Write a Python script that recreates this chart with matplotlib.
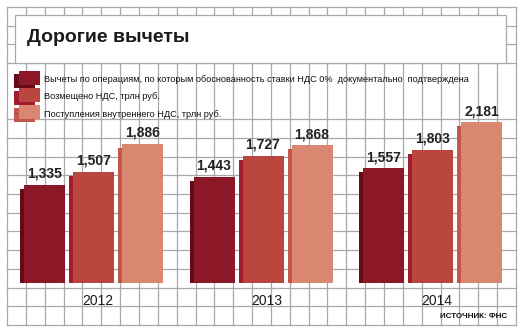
import matplotlib
matplotlib.use("Agg")
import matplotlib.pyplot as plt
from matplotlib.patches import Rectangle
from matplotlib.transforms import ScaledTranslation

# данные
years = ["2012", "2013", "2014"]
deductions = [1335, 1443, 1557]
refunded = [1507, 1727, 1803]
internal = [1886, 1868, 2181]
series_names = [
    "Вычеты по операциям, по которым обоснованность ставки НДС 0%  документально  подтверждена",
    "Возмещено НДС, трлн руб.",
    "Поступления внутреннего НДС, трлн руб.",
]
front_colors = ["#8C1727", "#BA463F", "#D98771"]
side_colors = ["#660B16", "#A11C2C", "#C4554A"]

SANS = ["Liberation Sans", "DejaVu Sans"]
W, H = 524, 334
fig = plt.figure(figsize=(W / 100, H / 100), dpi=100)
fig.patch.set_facecolor("white")

# фон: сетка в пикселях
bg = fig.add_axes([0, 0, 1, 1])
bg.set_xlim(0, W)
bg.set_ylim(H, 0)
bg.axis("off")
grid_c = "#A9A9A9"
x0, x1, nx = 7, 516, 27
y0, y1, ny = 7, 325, 17
for k in range(nx + 1):
    x = x0 + k * (x1 - x0) / nx
    bg.plot([x, x], [y0, y1], color=grid_c, lw=0.9, zorder=1)
for k in range(ny + 1):
    y = y0 + k * (y1 - y0) / ny
    if k in (4, 5):  # строки легенды без горизонтальных линий
        continue
    bg.plot([x0, x1], [y, y], color=grid_c, lw=0.9, zorder=1)

# белая плашка с заголовком
bg.add_patch(Rectangle((15, 15), 491, 48, facecolor="white", edgecolor=grid_c, lw=0.9, zorder=2))
bg.text(27, 38, "Дорогие вычеты", fontsize=14, fontweight="bold", family=SANS,
        color="#1a1a1a", va="center", ha="left", zorder=3)

# легенда
for i, name in enumerate(series_names):
    ty = 79.5 + i * 17.3
    bg.add_patch(Rectangle((14, ty - 6), 21, 14, facecolor=side_colors[i], lw=0, zorder=3))
    bg.add_patch(Rectangle((19, ty - 9), 21, 14, facecolor=front_colors[i], lw=0, zorder=4))
    bg.text(44, ty, name, fontsize=6.6, family=SANS, color="#111111", va="center", ha="left", zorder=3)

bg.text(507, 317, "ИСТОЧНИК: ФНС", fontsize=5.8, fontweight="bold", family=SANS,
        color="#111111", va="center", ha="right", zorder=3)

# столбцы
scale = 0.0737  # пикселей на единицу
base_px = 283
ymax = 2300
ax = fig.add_axes([0, (H - base_px) / H, 1, ymax * scale / H])
ax.patch.set_alpha(0)
ax.axis("off")
group_px = 169.5
mid_px = 93.5
ax.set_xlim(-mid_px / group_px, (W - mid_px) / group_px)
ax.set_ylim(0, ymax)

bw = 41 / group_px
step = 49 / group_px
shift = ScaledTranslation(-4 / 100, -4 / 100, fig.dpi_scale_trans)
all_series = [deductions, refunded, internal]
xs = list(range(len(years)))
for j, vals in enumerate(all_series):
    pos = [x + (j - 1) * step for x in xs]
    ax.bar(pos, vals, width=bw, color=side_colors[j], lw=0, transform=ax.transData + shift, zorder=2)
    ax.bar(pos, vals, width=bw, color=front_colors[j], lw=0, zorder=3)
    for p, v in zip(pos, vals):
        ax.annotate(f"{v:,}", (p, v), xytext=(0, 3), textcoords="offset points", ha="center", va="bottom",
                    fontsize=10, fontweight="bold", family=SANS, color="#222222", zorder=4)

for x, yr in zip(xs, years):
    ax.annotate(yr, (x, 0), xytext=(3, -13), textcoords="offset points", ha="center", va="center",
                fontsize=10, family=SANS, color="#1a1a1a", annotation_clip=False)

fig.savefig("out.png", dpi=100)
